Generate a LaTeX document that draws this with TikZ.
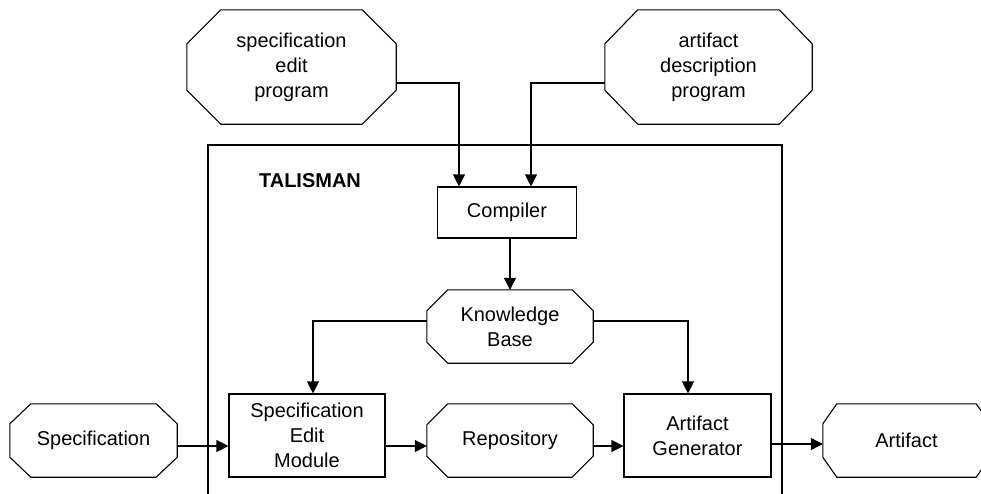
\documentclass[tikz,border=0pt]{standalone}
\usepackage{fontspec}
\setmainfont{Liberation Sans}
\usetikzlibrary{arrows.meta,calc}

% octagon drawn around a (borderless) node: #1 node, #2 horizontal cut, #3 vertical cut
\newcommand{\octagonaround}[3]{%
  \draw[line width=1.1pt]
    ([xshift=#2]#1.north west) -- ([xshift=-#2]#1.north east)
    -- ([yshift=-#3]#1.north east) -- ([yshift=#3]#1.south east)
    -- ([xshift=-#2]#1.south east) -- ([xshift=#2]#1.south west)
    -- ([yshift=#3]#1.south west) -- ([yshift=-#3]#1.north west) -- cycle;}

\begin{document}
\begin{tikzpicture}[x=1pt,y=-1pt,
  every node/.style={font=\fontsize{20}{25}\selectfont, align=center, inner sep=0pt},
  octa/.style={draw=none, minimum width=#1},
  box/.style={draw, line width=1.1pt},
  conn/.style={line width=1.1pt, -{Triangle[length=12pt,width=12pt]}}]
\useasboundingbox (0,0) rectangle (981,493);

% TALISMAN frame, open at the bottom
\draw[line width=1.1pt] (208,500) -- (208,145) -- (782,145) -- (782,500);
\node[font=\fontsize{20}{25}\selectfont\bfseries] (title) at (310,181) {TALISMAN};

% programs feeding the compiler
\node[octa=209pt, minimum height=114pt] (sep) at (291.5,67) {specification\\edit\\program};
\octagonaround{sep}{34pt}{34pt}
\node[octa=207pt, minimum height=114pt] (adp) at (708.5,67) {artifact\\description\\program};
\octagonaround{adp}{33pt}{34pt}

% inner blocks
\node[box, minimum width=139pt, minimum height=51pt] (comp) at (507,212.5) {Compiler};
\node[octa=166pt, minimum height=73pt] (kb) at (510,326.5) {Knowledge\\Base};
\octagonaround{kb}{21pt}{21pt}
\node[box, minimum width=156pt, minimum height=83pt] (sem) at (307,435.5) {Specification\\Edit\\Module};
\node[octa=166pt, minimum height=73pt] (repo) at (510,440.5) {Repository};
\octagonaround{repo}{21pt}{21pt}
\node[box, minimum width=147pt, minimum height=83pt] (ag) at (697.5,435.5) {Artifact\\Generator};

% outer inputs and outputs
\node[octa=167pt, minimum height=73pt] (spec) at (93.5,440.5) {Specification};
\octagonaround{spec}{21pt}{20pt}
\node[octa=167pt, minimum height=73pt] (art) at (906.5,440.5) {Artifact};
\octagonaround{art}{14pt}{20pt}

% connectors
\draw[conn] ([yshift=-16pt]sep.east) -| ([xshift=-48pt]comp.north);
\draw[conn] ([yshift=-16pt]adp.west) -| ([xshift=24pt]comp.north);
\draw[conn] ([xshift=3pt]comp.south) -- ([xshift=3pt]comp.south |- kb.north);
\draw[conn] ([yshift=5.5pt]kb.west) -| ([xshift=6pt]sem.north);
\draw[conn] ([yshift=5.5pt]kb.east) -| ([xshift=-9.5pt]ag.north);
\draw[conn] ([yshift=-5.5pt]spec.east) -- ([yshift=-5.5pt]spec.east -| sem.west);
\draw[conn] ([yshift=-5.5pt]repo.west -| sem.east) -- ([yshift=-5.5pt]repo.west);
\draw[conn] ([yshift=-5.5pt]repo.east) -- ([yshift=-5.5pt]repo.east -| ag.west);
\draw[conn] ([yshift=-3.5pt]art.west -| ag.east) -- ([yshift=-3.5pt]art.west);
\end{tikzpicture}
\end{document}
